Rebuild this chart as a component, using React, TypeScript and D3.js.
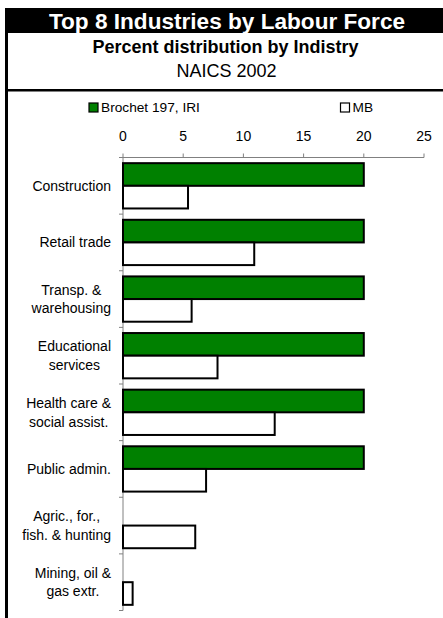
import React from "react";
import * as d3 from "d3";

const categories: string[][] = [
  ["Construction"],
  ["Retail trade"],
  ["Transp. &", "warehousing"],
  ["Educational", "services"],
  ["Health care &", "social assist."],
  ["Public admin."],
  ["Agric., for.,", "fish. & hunting"],
  ["Mining, oil &", "gas extr."],
];
const seriesNames = ["Brochet 197, IRI", "MB"];
const brochet = [20, 20, 20, 20, 20, 20, 0, 0];
const mb = [5.4, 10.9, 5.7, 7.85, 12.6, 6.9, 6.0, 0.8];
const xTicks = [0, 5, 10, 15, 20, 25];
const seriesColors = ["#008000", "#ffffff"];

const W = 443;
const H = 618;
const FONT = "Liberation Sans, Arial, sans-serif";

function measure(text: string, font: string): number {
  const c = document.createElement("canvas").getContext("2d");
  if (!c) return text.length * 7;
  c.font = font;
  return c.measureText(text).width;
}

export default function App() {
  const x = d3.scaleLinear().domain([0, 25]).range([123, 424]);
  const keys = categories.map((_, i) => String(i));
  const y = d3.scaleBand().domain(keys).range([157.5, 610.5]).padding(0);
  const inner = d3
    .scaleBand()
    .domain(seriesNames)
    .range([0, y.step()])
    .paddingInner(0)
    .paddingOuter(0.25);
  const values = [brochet, mb];
  const catFont = `14px ${FONT}`;
  const lineH = 18.5;

  return (
    <svg
      width={W}
      height={H}
      style={{ position: "absolute", left: 0, top: 0, background: "#fff" }}
      fontFamily={FONT}
    >
      <rect x={0} y={0} width={W} height={H} fill="#fff" />
      {/* frame */}
      <rect x={5} y={8} width={W - 5} height={25} fill="#000" />
      <rect x={5} y={8} width={3} height={H - 8} fill="#000" />
      <rect x={5} y={89} width={W - 5} height={2.5} fill="#000" />
      <text x={227} y={28.5} textAnchor="middle" fill="#fff" fontWeight="bold" fontSize={22.6}>
        Top 8 Industries by Labour Force
      </text>
      <text x={225.5} y={53} textAnchor="middle" fill="#000" fontWeight="bold" fontSize={18}>
        Percent distribution by Indistry
      </text>
      <text x={226.5} y={77} textAnchor="middle" fill="#000" fontSize={18}>
        NAICS 2002
      </text>

      {/* legend */}
      {seriesNames.map((s, i) => {
        const lx = i === 0 ? 89 : 340.5;
        return (
          <g key={s}>
            <rect x={lx} y={103} width={9} height={9} fill={seriesColors[i]} stroke="#000" strokeWidth={1.2} />
            <text x={lx + 12} y={112} fontSize={13.7} fill="#000">
              {s}
            </text>
          </g>
        );
      })}

      {/* top axis */}
      <line x1={x(0)} x2={x(25)} y1={157.5} y2={157.5} stroke="#808080" strokeWidth={1} />
      {xTicks.map((t) => (
        <g key={t}>
          <line x1={x(t)} x2={x(t)} y1={153.5} y2={157.5} stroke="#808080" strokeWidth={1} />
          <text x={x(t)} y={141} textAnchor="middle" fontSize={14} fill="#000">
            {t}
          </text>
        </g>
      ))}

      {/* left axis */}
      <line x1={x(0)} x2={x(0)} y1={157.5} y2={610.5} stroke="#808080" strokeWidth={1} />
      {d3.range(categories.length + 1).map((i) => {
        const yy = 157.5 + i * y.step();
        return <line key={i} x1={119} x2={x(0)} y1={yy} y2={yy} stroke="#808080" strokeWidth={1} />;
      })}

      {/* bars */}
      {keys.map((k, ci) => (
        <g key={k}>
          {seriesNames.map((s, si) => {
            const v = values[si][ci];
            if (!v) return null;
            return (
              <rect
                key={s}
                x={x(0)}
                y={(y(k) as number) + (inner(s) as number)}
                width={x(v) - x(0)}
                height={inner.bandwidth()}
                fill={seriesColors[si]}
                stroke="#000"
                strokeWidth={2}
              />
            );
          })}
        </g>
      ))}

      {/* category labels */}
      {categories.map((lines, ci) => {
        const maxW = Math.max(...lines.map((l) => measure(l, catFont)));
        const cx = 111 - maxW / 2;
        const cy = (y(keys[ci]) as number) + y.bandwidth() / 2;
        const first = cy - ((lines.length - 1) * lineH) / 2;
        return (
          <text key={ci} fontSize={14} textAnchor="middle" fill="#000">
            {lines.map((l, li) => (
              <tspan key={li} x={cx} y={first + li * lineH + 5}>
                {l}
              </tspan>
            ))}
          </text>
        );
      })}
    </svg>
  );
}
